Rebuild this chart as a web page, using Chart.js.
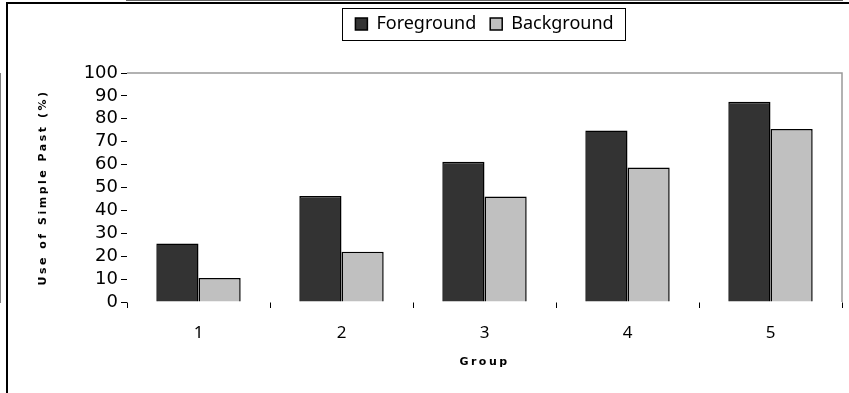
<!DOCTYPE html>
<html>
<head>
<meta charset="utf-8">
<script src="https://cdn.jsdelivr.net/npm/chart.js@4"></script>
<style>
  html, body { margin: 0; background: #fff; }
  #wrap { position: relative; width: 849px; height: 393px; }
  #frame {
    position: absolute; left: 6px; top: 2px; right: 0; bottom: 0;
    border-left: 2px solid #000; border-top: 2px solid #000;
    pointer-events: none;
  }
</style>
</head>
<body>
<div id="wrap"><canvas id="chart"></canvas><div id="frame"></div></div>
<script>
// data
const groups = ['1', '2', '3', '4', '5'];
const foreground = [25.6, 46.3, 61.2, 74.9, 87.4];
const background = [10.5, 21.9, 46.1, 58.7, 75.6];
const yMin = 0, yMax = 100, yStep = 10;

// plot frame, legend box and title spacing
const frame = {
    id: 'frame',
    afterInit(chart) {
        // leave a gap between the legend and the plot
        const leg = chart.legend;
        const fit = leg.fit;
        leg.fit = function () { fit.call(this); this.height += 30; };
    },
    beforeDraw(chart) {
        chart.ctx.letterSpacing = '0px';
    },
    beforeDatasetsDraw(chart) {
        const { left, top, right, bottom } = chart.chartArea;
        const ctx = chart.ctx;
        ctx.save();
        ctx.strokeStyle = '#999';
        ctx.lineWidth = 1.5;
        ctx.beginPath();
        ctx.moveTo(left, top);
        ctx.lineTo(right, top);
        ctx.lineTo(right, bottom);
        ctx.stroke();
        ctx.restore();
    },
    afterDatasetsDraw(chart) {
        // axis titles are drawn after this point (grid z: 1)
        chart.ctx.letterSpacing = '2.5px';
    },
    afterDraw(chart) {
        const hb = chart.legend.legendHitBoxes;
        if (!hb || !hb.length) return;
        const l = Math.min(...hb.map(h => h.left)) - 13;
        const r = Math.max(...hb.map(h => h.left + h.width)) + 12;
        const t = hb[0].top - 7;
        const b = hb[0].top + hb[0].height + 7;
        const ctx = chart.ctx;
        ctx.save();
        ctx.strokeStyle = '#000';
        ctx.lineWidth = 1;
        ctx.strokeRect(Math.round(l) + 0.5, Math.round(t) + 0.5, Math.round(r - l), Math.round(b - t));
        ctx.restore();
    }
};

new Chart(document.getElementById('chart'), {
    type: 'bar',
    data: {
        labels: groups,
        datasets: [{
            label: 'Foreground',
            data: foreground,
            backgroundColor: '#333333',
            borderColor: '#000',
            borderWidth: 1.5
        }, {
            label: 'Background',
            data: background,
            backgroundColor: '#c0c0c0',
            borderColor: '#000',
            borderWidth: 1.5
        }]
    },
    options: {
        responsive: true,
        maintainAspectRatio: false,
        animation: false,
        datasets: {
            bar: { categoryPercentage: 0.59, barPercentage: 1 }
        },
        layout: { padding: { top: 1, left: 7, right: 7, bottom: 0 } },
        plugins: {
            tooltip: { enabled: false },
            legend: {
                position: 'top',
                fullSize: false,
                labels: {
                    color: '#000',
                    font: { family: 'Noto Sans', size: 18 },
                    boxWidth: 12,
                    boxHeight: 12,
                    padding: 14,
                    useBorderRadius: false
                }
            }
        },
        scales: {
            x: {
                afterFit(scale) { scale.height = 91; },
                grid: { display: true, drawOnChartArea: false, tickLength: 6, color: '#000', z: 1 },
                border: { color: '#333', width: 1.5 },
                ticks: { color: '#000', padding: 15, font: { family: 'Noto Sans', size: 17 } },
                title: {
                    display: true,
                    text: 'Group',
                    color: '#000',
                    font: { family: 'DejaVu Sans', size: 11, weight: 'bold' },
                    padding: { top: 0, bottom: 24 }
                }
            },
            y: {
                min: yMin,
                max: yMax,
                afterFit(scale) { scale.width = 120; },
                grid: { display: true, drawOnChartArea: false, tickLength: 6, color: '#000', z: 1 },
                border: { color: '#000', width: 1 },
                ticks: {
                    stepSize: yStep,
                    autoSkip: false,
                    color: '#000',
                    padding: 3,
                    font: { family: 'DejaVu Sans', size: 18 }
                },
                title: {
                    display: true,
                    text: 'Use of Simple Past (%)',
                    color: '#000',
                    font: { family: 'DejaVu Sans', size: 11, weight: 'bold' },
                    padding: { top: 30, bottom: 0 }
                }
            }
        }
    },
    plugins: [frame]
});
</script>
</body>
</html>
